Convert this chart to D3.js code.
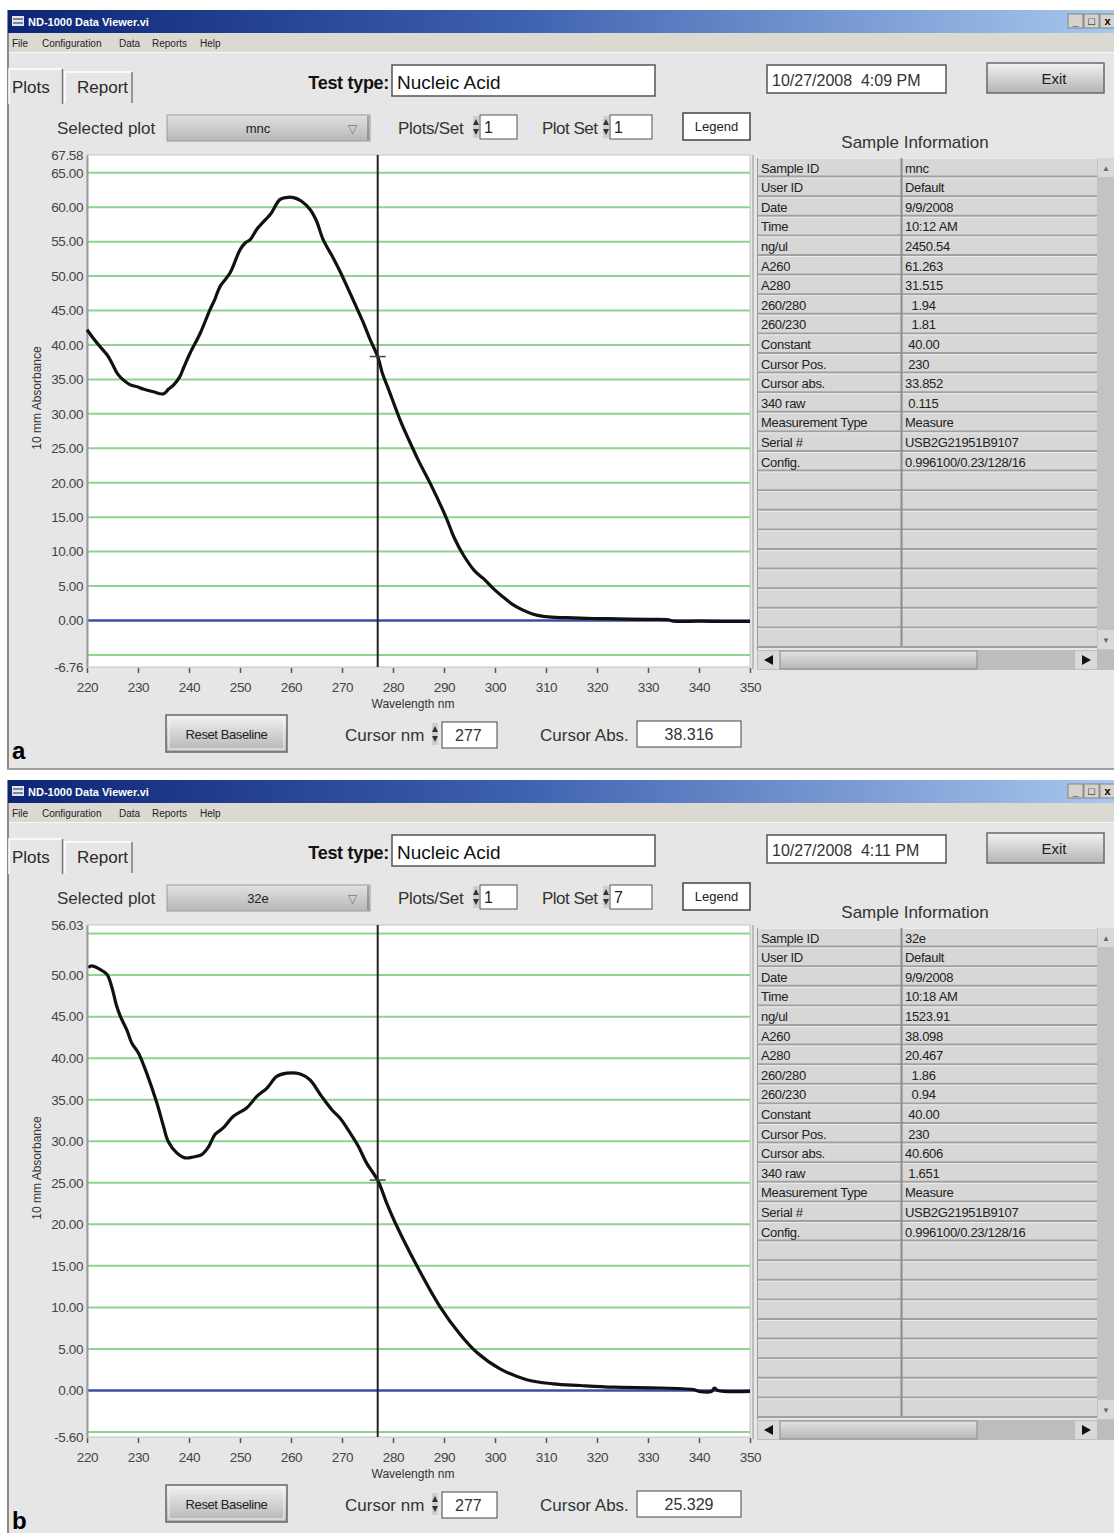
<!DOCTYPE html>
<html>
<head>
<meta charset="utf-8">
<script src="https://cdn.jsdelivr.net/npm/d3@7"></script>
<style>
body { margin: 0; background: #fff; }
svg text { font-family: "Liberation Sans", Arial, sans-serif; }
.pre { white-space: pre; }
</style>
</head>
<body>
<div id="chart"></div>
<script>
// ---- data ----
var wavelengthA = [220, 221, 222.5, 224, 225, 226, 227, 228.5, 230, 231, 233, 235, 236, 237, 238.2, 239, 240.2,
    242.2, 244.1, 245, 246.1, 248, 250, 251, 252, 253.3, 255, 256, 257.8, 259, 260.5, 262, 263.7, 265,
    266.3, 268.3, 269.6, 271.9, 273, 274.2, 275.5, 277, 278, 279, 281.4, 283, 285, 287.3, 290.5, 292,
    293.8, 296, 297.7, 300, 301.6, 303.5, 305.5, 307.5, 309.5, 312, 314, 318, 322, 326, 330, 334, 335,
    340, 345, 350];
var absorbanceA = [42.2, 41.2, 39.8, 38.5, 37.2, 35.8, 35.0, 34.2, 33.9, 33.6, 33.2, 32.9, 33.6, 34.2, 35.4, 36.8, 38.8,
    41.7, 45.1, 46.5, 48.5, 50.4, 53.8, 54.8, 55.3, 56.8, 58.2, 59.0, 61.1, 61.4, 61.4, 60.9, 59.7, 58.0,
    55.3, 52.6, 50.7, 47.0, 45.2, 43.2, 40.8, 38.3, 35.7, 33.8, 29.1, 26.4, 23.2, 19.9, 14.8, 12.0,
    9.5, 7.2, 6.1, 4.4, 3.4, 2.3, 1.5, 0.9, 0.6, 0.45, 0.4, 0.3, 0.25, 0.2, 0.15, 0.1, -0.1,
    -0.1, -0.15, -0.15];

var wavelengthB = [220.3, 220.9, 222.5, 223.9, 224.8, 225.8, 226.5, 227.8, 228.8, 230.1, 231.7, 233.7, 235, 235.9,
    237.6, 239.2, 240.8, 242.5, 243.8, 245.1, 246.7, 248.7, 251.3, 253.3, 255.3, 257.2, 259.2, 261.8,
    263.7, 266, 268, 269.6, 271.6, 273.2, 274.8, 277, 278.8, 280.5, 284.6, 289.2, 293.1, 296.4, 301,
    306.2, 311.4, 316.7, 323.2, 332.4, 339, 340, 342.5, 343, 343.7, 350];
var absorbanceB = [50.9, 51.1, 50.7, 50.1, 48.7, 46.3, 45.1, 43.4, 41.8, 40.6, 38.2, 34.6, 31.8, 30.0,
    28.6, 28.0, 28.1, 28.4, 29.3, 30.8, 31.6, 33.0, 34.0, 35.4, 36.4, 37.8, 38.2, 38.1,
    37.4, 35.4, 33.8, 32.8, 31.0, 29.4, 27.4, 25.3, 22.5, 20.1, 15.1, 10.1, 6.8, 4.6, 2.6,
    1.3, 0.8, 0.6, 0.4, 0.3, 0.1, -0.1, -0.1, 0.3, 0.0, -0.1];

var panelLetters = ["a", "b"];
var selectedPlots = ["mnc", "32e"];
var plotsPerSet = ["1", "1"];
var plotSets = ["1", "7"];
var timestamps = ["10/27/2008  4:09 PM", "10/27/2008  4:11 PM"];
var yMins = [-6.76, -5.60];
var yMaxs = [67.58, 56.03];
var cursorNm = [277, 277];
var cursorAbs = [38.316, 25.329];
var xTicks = [220, 230, 240, 250, 260, 270, 280, 290, 300, 310, 320, 330, 340, 350];

var sampleFields = ["Sample ID", "User ID", "Date", "Time", "ng/ul", "A260", "A280", "260/280", "260/230",
    "Constant", "Cursor Pos.", "Cursor abs.", "340 raw", "Measurement Type", "Serial #", "Config."];
var sampleValuesA = ["mnc", "Default", "9/9/2008", "10:12 AM", "2450.54", "61.263", "31.515", "  1.94", "  1.81",
    " 40.00", " 230", "33.852", " 0.115", "Measure", "USB2G21951B9107", "0.996100/0.23/128/16"];
var sampleValuesB = ["32e", "Default", "9/9/2008", "10:18 AM", "1523.91", "38.098", "20.467", "  1.86", "  0.94",
    " 40.00", " 230", "40.606", " 1.651", "Measure", "USB2G21951B9107", "0.996100/0.23/128/16"];

var menuItems = ["File", "Configuration", "Data", "Reports", "Help"];
var menuX = [12, 42, 119, 152, 200];

// ---- page ----
var W = 1114, H = 1533;
var svg = d3.select("#chart").append("svg").attr("width", W).attr("height", H);

var defs = svg.append("defs");
var tg = defs.append("linearGradient").attr("id", "titleGrad");
tg.append("stop").attr("offset", "0%").attr("stop-color", "#0c2575");
tg.append("stop").attr("offset", "45%").attr("stop-color", "#3c5fae");
tg.append("stop").attr("offset", "100%").attr("stop-color", "#a8c8ee");
var bgr = defs.append("linearGradient").attr("id", "btnGrad")
    .attr("x1", 0).attr("y1", 0).attr("x2", 0).attr("y2", 1);
bgr.append("stop").attr("offset", "0%").attr("stop-color", "#f2f2f2");
bgr.append("stop").attr("offset", "100%").attr("stop-color", "#b4b4b4");
var dgr = defs.append("linearGradient").attr("id", "dropGrad")
    .attr("x1", 0).attr("y1", 0).attr("x2", 0).attr("y2", 1);
dgr.append("stop").attr("offset", "0%").attr("stop-color", "#e2e2e2");
dgr.append("stop").attr("offset", "100%").attr("stop-color", "#b6b6b6");

function spinner(g, x, y) {
    g.append("rect").attr("x", x).attr("y", y).attr("width", 6).attr("height", 22).attr("fill", "#cfcfcf");
    g.append("path").attr("d", "M" + x + "," + (y + 9) + "l3,-6l3,6z").attr("fill", "#333");
    g.append("path").attr("d", "M" + x + "," + (y + 13) + "l3,6l3,-6z").attr("fill", "#333");
}

function label(g, x, y, txt, size, anchor, fill) {
    return g.append("text").attr("x", x).attr("y", y).text(txt)
        .attr("font-size", size).attr("text-anchor", anchor || "start")
        .attr("fill", fill || "#2a2a2a");
}

function drawPanel(i, top) {
    var g = svg.append("g").attr("transform", "translate(0," + top + ")");
    var wl = i === 0 ? wavelengthA : wavelengthB;
    var ab = i === 0 ? absorbanceA : absorbanceB;
    var vals = i === 0 ? sampleValuesA : sampleValuesB;

    // window body
    g.append("rect").attr("x", 7).attr("y", 10).attr("width", W).attr("height", 760).attr("fill", "#e6e6e6");
    g.append("line").attr("x1", 8).attr("x2", 8).attr("y1", 10).attr("y2", 770)
        .attr("stroke", "#8a8a8a").attr("stroke-width", 2);
    g.append("line").attr("x1", 7).attr("x2", W).attr("y1", 769).attr("y2", 769)
        .attr("stroke", "#a0a0a0").attr("stroke-width", 2);

    // title bar
    g.append("rect").attr("x", 8).attr("y", 10).attr("width", W - 8).attr("height", 23).attr("fill", "url(#titleGrad)");
    g.append("rect").attr("x", 12).attr("y", 16).attr("width", 12).attr("height", 10).attr("fill", "#dfe6f5");
    g.append("path").attr("d", "M13,19h10M13,23h10").attr("stroke", "#223").attr("stroke-width", 1.2);
    label(g, 28, 26, "ND-1000 Data Viewer.vi", 11, "start", "#fff").attr("font-weight", "bold");
    [1068, 1084, 1100].forEach(function(bx, k) {
        g.append("rect").attr("x", bx).attr("y", 14).attr("width", 15).attr("height", 14)
            .attr("fill", "#d6d3cc").attr("stroke", "#777").attr("stroke-width", 0.8);
        label(g, bx + 7.5, 25, ["_", "\u25a1", "x"][k], 11, "middle", "#000").attr("font-weight", "bold");
    });

    // menu bar
    g.append("rect").attr("x", 9).attr("y", 33).attr("width", W).attr("height", 19).attr("fill", "#dcd9d2");
    g.append("line").attr("x1", 9).attr("x2", W).attr("y1", 52.5).attr("y2", 52.5).attr("stroke", "#f8f8f8");
    menuItems.forEach(function(m, k) {
        label(g, menuX[k], 47, m, 10, "start", "#222");
    });

    // tabs
    g.append("path").attr("d", "M9,104V69H62").attr("fill", "none").attr("stroke", "#fff").attr("stroke-width", 1.5);
    g.append("line").attr("x1", 62.5).attr("x2", 62.5).attr("y1", 69).attr("y2", 104)
        .attr("stroke", "#7a7a7a").attr("stroke-width", 1.5);
    g.append("path").attr("d", "M65,103V72H131").attr("fill", "none").attr("stroke", "#fff").attr("stroke-width", 1.5);
    g.append("line").attr("x1", 132).attr("x2", 132).attr("y1", 72).attr("y2", 103)
        .attr("stroke", "#7a7a7a").attr("stroke-width", 1.5);
    label(g, 12, 93, "Plots", 17);
    label(g, 77, 93, "Report", 17);

    // test type row
    label(g, 389, 89, "Test type:", 18, "end", "#111").attr("font-weight", "bold").attr("letter-spacing", -0.3);
    g.append("rect").attr("x", 392).attr("y", 65).attr("width", 263).attr("height", 31)
        .attr("fill", "#fff").attr("stroke", "#555").attr("stroke-width", 1.5);
    label(g, 397, 89, "Nucleic Acid", 19, "start", "#111");
    g.append("rect").attr("x", 767).attr("y", 65).attr("width", 179).attr("height", 28)
        .attr("fill", "#fff").attr("stroke", "#555").attr("stroke-width", 1.5);
    label(g, 772, 86, timestamps[i], 16, "start", "#333").attr("class", "pre");
    g.append("rect").attr("x", 987).attr("y", 63).attr("width", 117).attr("height", 30)
        .attr("fill", "url(#btnGrad)").attr("stroke", "#6a6a6a").attr("stroke-width", 1.5);
    label(g, 1054, 84, "Exit", 15, "middle", "#222");

    // selected plot row
    label(g, 57, 134, "Selected plot", 17, "start", "#333");
    g.append("rect").attr("x", 167).attr("y", 115).attr("width", 203).attr("height", 26)
        .attr("fill", "url(#dropGrad)").attr("stroke", "#9a9a9a");
    label(g, 258, 133, selectedPlots[i], 13, "middle", "#222");
    label(g, 352, 133, "\u25bd", 12, "middle", "#777");
    g.append("line").attr("x1", 368).attr("x2", 368).attr("y1", 116).attr("y2", 140).attr("stroke", "#666");

    label(g, 398, 134, "Plots/Set", 17, "start", "#333").attr("letter-spacing", -0.3);
    spinner(g, 473, 116);
    g.append("rect").attr("x", 480).attr("y", 115).attr("width", 37).attr("height", 24)
        .attr("fill", "#fff").attr("stroke", "#555");
    label(g, 484, 133, plotsPerSet[i], 16, "start", "#222");

    label(g, 542, 134, "Plot Set", 17, "start", "#333").attr("letter-spacing", -0.5);
    spinner(g, 603, 116);
    g.append("rect").attr("x", 610).attr("y", 115).attr("width", 42).attr("height", 24)
        .attr("fill", "#fff").attr("stroke", "#555");
    label(g, 614, 133, plotSets[i], 16, "start", "#222");

    g.append("rect").attr("x", 683).attr("y", 113).attr("width", 67).attr("height", 27)
        .attr("fill", "#fff").attr("stroke", "#444").attr("stroke-width", 1.5);
    label(g, 716.5, 131, "Legend", 13, "middle", "#222");

    // ---- sample information table ----
    label(g, 915, 148, "Sample Information", 17, "middle", "#333");
    var rowH = 19.6, tTop = 158, nRows = 25;
    var rows = d3.range(nRows);
    var tbl = g.append("g");
    tbl.append("rect").attr("x", 757).attr("y", tTop).attr("width", 340).attr("height", rowH * nRows)
        .attr("fill", "#d7d7d7");
    tbl.selectAll(".rowline").data(rows).enter().append("line")
        .attr("x1", 757).attr("x2", 1097)
        .attr("y1", function(d) { return tTop + (d + 1) * rowH - 1; })
        .attr("y2", function(d) { return tTop + (d + 1) * rowH - 1; })
        .attr("stroke", "#a0a0a0").attr("stroke-width", 2);
    tbl.selectAll(".rowhi").data(rows).enter().append("line")
        .attr("x1", 758).attr("x2", 1097)
        .attr("y1", function(d) { return tTop + d * rowH + 0.5; })
        .attr("y2", function(d) { return tTop + d * rowH + 0.5; })
        .attr("stroke", "#ececec").attr("stroke-width", 1);
    tbl.append("line").attr("x1", 901.5).attr("x2", 901.5).attr("y1", tTop).attr("y2", tTop + rowH * nRows - 2)
        .attr("stroke", "#8c8c8c").attr("stroke-width", 2);
    tbl.append("line").attr("x1", 757.5).attr("x2", 757.5).attr("y1", tTop).attr("y2", 670)
        .attr("stroke", "#9a9a9a");
    tbl.selectAll(".fld").data(sampleFields).enter().append("text")
        .attr("x", 761).attr("y", function(d, k) { return tTop + k * rowH + 14.5; })
        .attr("font-size", 13).attr("fill", "#222").attr("letter-spacing", -0.3)
        .text(function(d) { return d; });
    tbl.selectAll(".val").data(vals).enter().append("text")
        .attr("class", "pre")
        .attr("x", 905).attr("y", function(d, k) { return tTop + k * rowH + 14.5; })
        .attr("font-size", 13).attr("fill", "#222").attr("letter-spacing", -0.3)
        .text(function(d) { return d; });

    // scrollbars
    tbl.append("rect").attr("x", 1097).attr("y", tTop).attr("width", 20).attr("height", 492).attr("fill", "#c3c3c3");
    tbl.append("rect").attr("x", 1098).attr("y", tTop).attr("width", 16).attr("height", 19).attr("fill", "#d9d9d9");
    label(tbl, 1106, tTop + 13, "\u25b2", 8, "middle", "#666");
    tbl.append("rect").attr("x", 1098).attr("y", 630).attr("width", 16).attr("height", 19).attr("fill", "#d9d9d9");
    label(tbl, 1106, 643, "\u25bc", 8, "middle", "#666");
    tbl.append("rect").attr("x", 757).attr("y", 650).attr("width", 360).attr("height", 20).attr("fill", "#bdbdbd");
    tbl.append("rect").attr("x", 758).attr("y", 651).attr("width", 22).attr("height", 18).attr("fill", "#d9d9d9");
    tbl.append("path").attr("d", "M764,660l9,-5v10z").attr("fill", "#111");
    tbl.append("rect").attr("x", 780).attr("y", 651).attr("width", 197).attr("height", 18)
        .attr("fill", "url(#dropGrad)").attr("stroke", "#8a8a8a");
    tbl.append("rect").attr("x", 1075).attr("y", 651).attr("width", 22).attr("height", 18).attr("fill", "#d9d9d9");
    tbl.append("path").attr("d", "M1091,660l-9,-5v10z").attr("fill", "#111");

    // ---- plot ----
    var pl = 87, pr = 750, pt = 155, pb = 667;
    var x = d3.scaleLinear().domain([220, 350]).range([pl, pr]);
    var y = d3.scaleLinear().domain([yMins[i], yMaxs[i]]).range([pb, pt]);

    g.append("rect").attr("x", pl).attr("y", pt).attr("width", pr - pl).attr("height", pb - pt)
        .attr("fill", "#fff").attr("stroke", "#c4c4c4");
    g.append("line").attr("x1", pr + 3).attr("x2", pr + 3).attr("y1", pt).attr("y2", pb + 2)
        .attr("stroke", "#bdbdbd").attr("stroke-width", 2);

    var gridVals = d3.range(-5, yMaxs[i], 5).filter(function(v) { return v !== 0; });
    g.append("g").selectAll("line").data(gridVals).enter().append("line")
        .attr("x1", pl).attr("x2", pr)
        .attr("y1", function(d) { return y(d); }).attr("y2", function(d) { return y(d); })
        .attr("stroke", "#8ed48e").attr("stroke-width", 2);
    g.append("line").attr("x1", pl).attr("x2", pr).attr("y1", y(0)).attr("y2", y(0))
        .attr("stroke", "#3b4ea6").attr("stroke-width", 2.5);

    // y axis labels: every 5 from 0, plus both limits
    var yLabelVals = d3.range(0, yMaxs[i], 5).filter(function(v) { return y(v) - y(yMaxs[i]) > 12; });
    yLabelVals = [yMins[i]].concat(yLabelVals).concat([yMaxs[i]]);
    var yAxis = g.append("g").attr("transform", "translate(" + pl + ",0)")
        .call(d3.axisLeft(y).tickValues(yLabelVals)
            .tickFormat(function(d) { return d.toFixed(2); }).tickSize(0).tickPadding(4));
    yAxis.select(".domain").attr("stroke", "#9a9a9a").attr("stroke-width", 2);
    yAxis.selectAll("text").attr("font-size", 13.5).attr("fill", "#444").attr("letter-spacing", -0.4)
        .attr("font-family", "Liberation Sans, Arial, sans-serif");

    var xAxis = g.append("g").attr("transform", "translate(0," + (pb + 1) + ")")
        .call(d3.axisBottom(x).tickValues(xTicks).tickFormat(d3.format("d")).tickSize(5).tickPadding(9));
    xAxis.select(".domain").remove();
    xAxis.selectAll("line").attr("stroke", "#555").attr("stroke-width", 1.5);
    xAxis.selectAll("text").attr("font-size", 13.5).attr("fill", "#444").attr("letter-spacing", -0.4)
        .attr("font-family", "Liberation Sans, Arial, sans-serif");

    label(g, 413, 708, "Wavelength nm", 12, "middle", "#333");
    g.append("text").attr("transform", "translate(41,398) rotate(-90)").attr("text-anchor", "middle")
        .attr("font-size", 12).attr("fill", "#333").text("10 mm Absorbance");

    // spectrum
    var pts = wl.map(function(w, k) { return [w, ab[k]]; });
    var line = d3.line().x(function(d) { return x(d[0]); }).y(function(d) { return y(d[1]); })
        .curve(d3.curveCatmullRom.alpha(0.5));
    g.append("path").datum(pts).attr("d", line).attr("fill", "none")
        .attr("stroke", "#111").attr("stroke-width", 3.2).attr("stroke-linejoin", "round");

    // cursor
    var cx = x(cursorNm[i]);
    g.append("line").attr("x1", cx).attr("x2", cx).attr("y1", pt).attr("y2", pb)
        .attr("stroke", "#222").attr("stroke-width", 2);
    g.append("line").attr("x1", cx - 8).attr("x2", cx + 8)
        .attr("y1", y(cursorAbs[i])).attr("y2", y(cursorAbs[i]))
        .attr("stroke", "#444").attr("stroke-width", 1.5);

    // bottom controls
    g.append("rect").attr("x", 166).attr("y", 715).attr("width", 121).attr("height", 37)
        .attr("fill", "url(#btnGrad)").attr("stroke", "#666").attr("stroke-width", 1.5);
    g.append("rect").attr("x", 169).attr("y", 718).attr("width", 115).attr("height", 31)
        .attr("fill", "none").attr("stroke", "#f4f4f4");
    label(g, 226.5, 739, "Reset Baseline", 13, "middle", "#222").attr("letter-spacing", -0.4);

    label(g, 345, 741, "Cursor nm", 17, "start", "#333");
    spinner(g, 432, 723);
    g.append("rect").attr("x", 442).attr("y", 722).attr("width", 55).attr("height", 26)
        .attr("fill", "#fff").attr("stroke", "#444");
    label(g, 455, 741, String(cursorNm[i]), 16, "start", "#333");

    label(g, 540, 741, "Cursor Abs.", 17, "start", "#333");
    g.append("rect").attr("x", 637).attr("y", 721).attr("width", 104).attr("height", 26)
        .attr("fill", "#fff").attr("stroke", "#444");
    label(g, 689, 740, cursorAbs[i].toFixed(3), 16, "middle", "#333");

    label(g, 12, 759, panelLetters[i], 24, "start", "#000").attr("font-weight", "bold");
}

drawPanel(0, 0);
drawPanel(1, 770);
</script>
</body>
</html>
